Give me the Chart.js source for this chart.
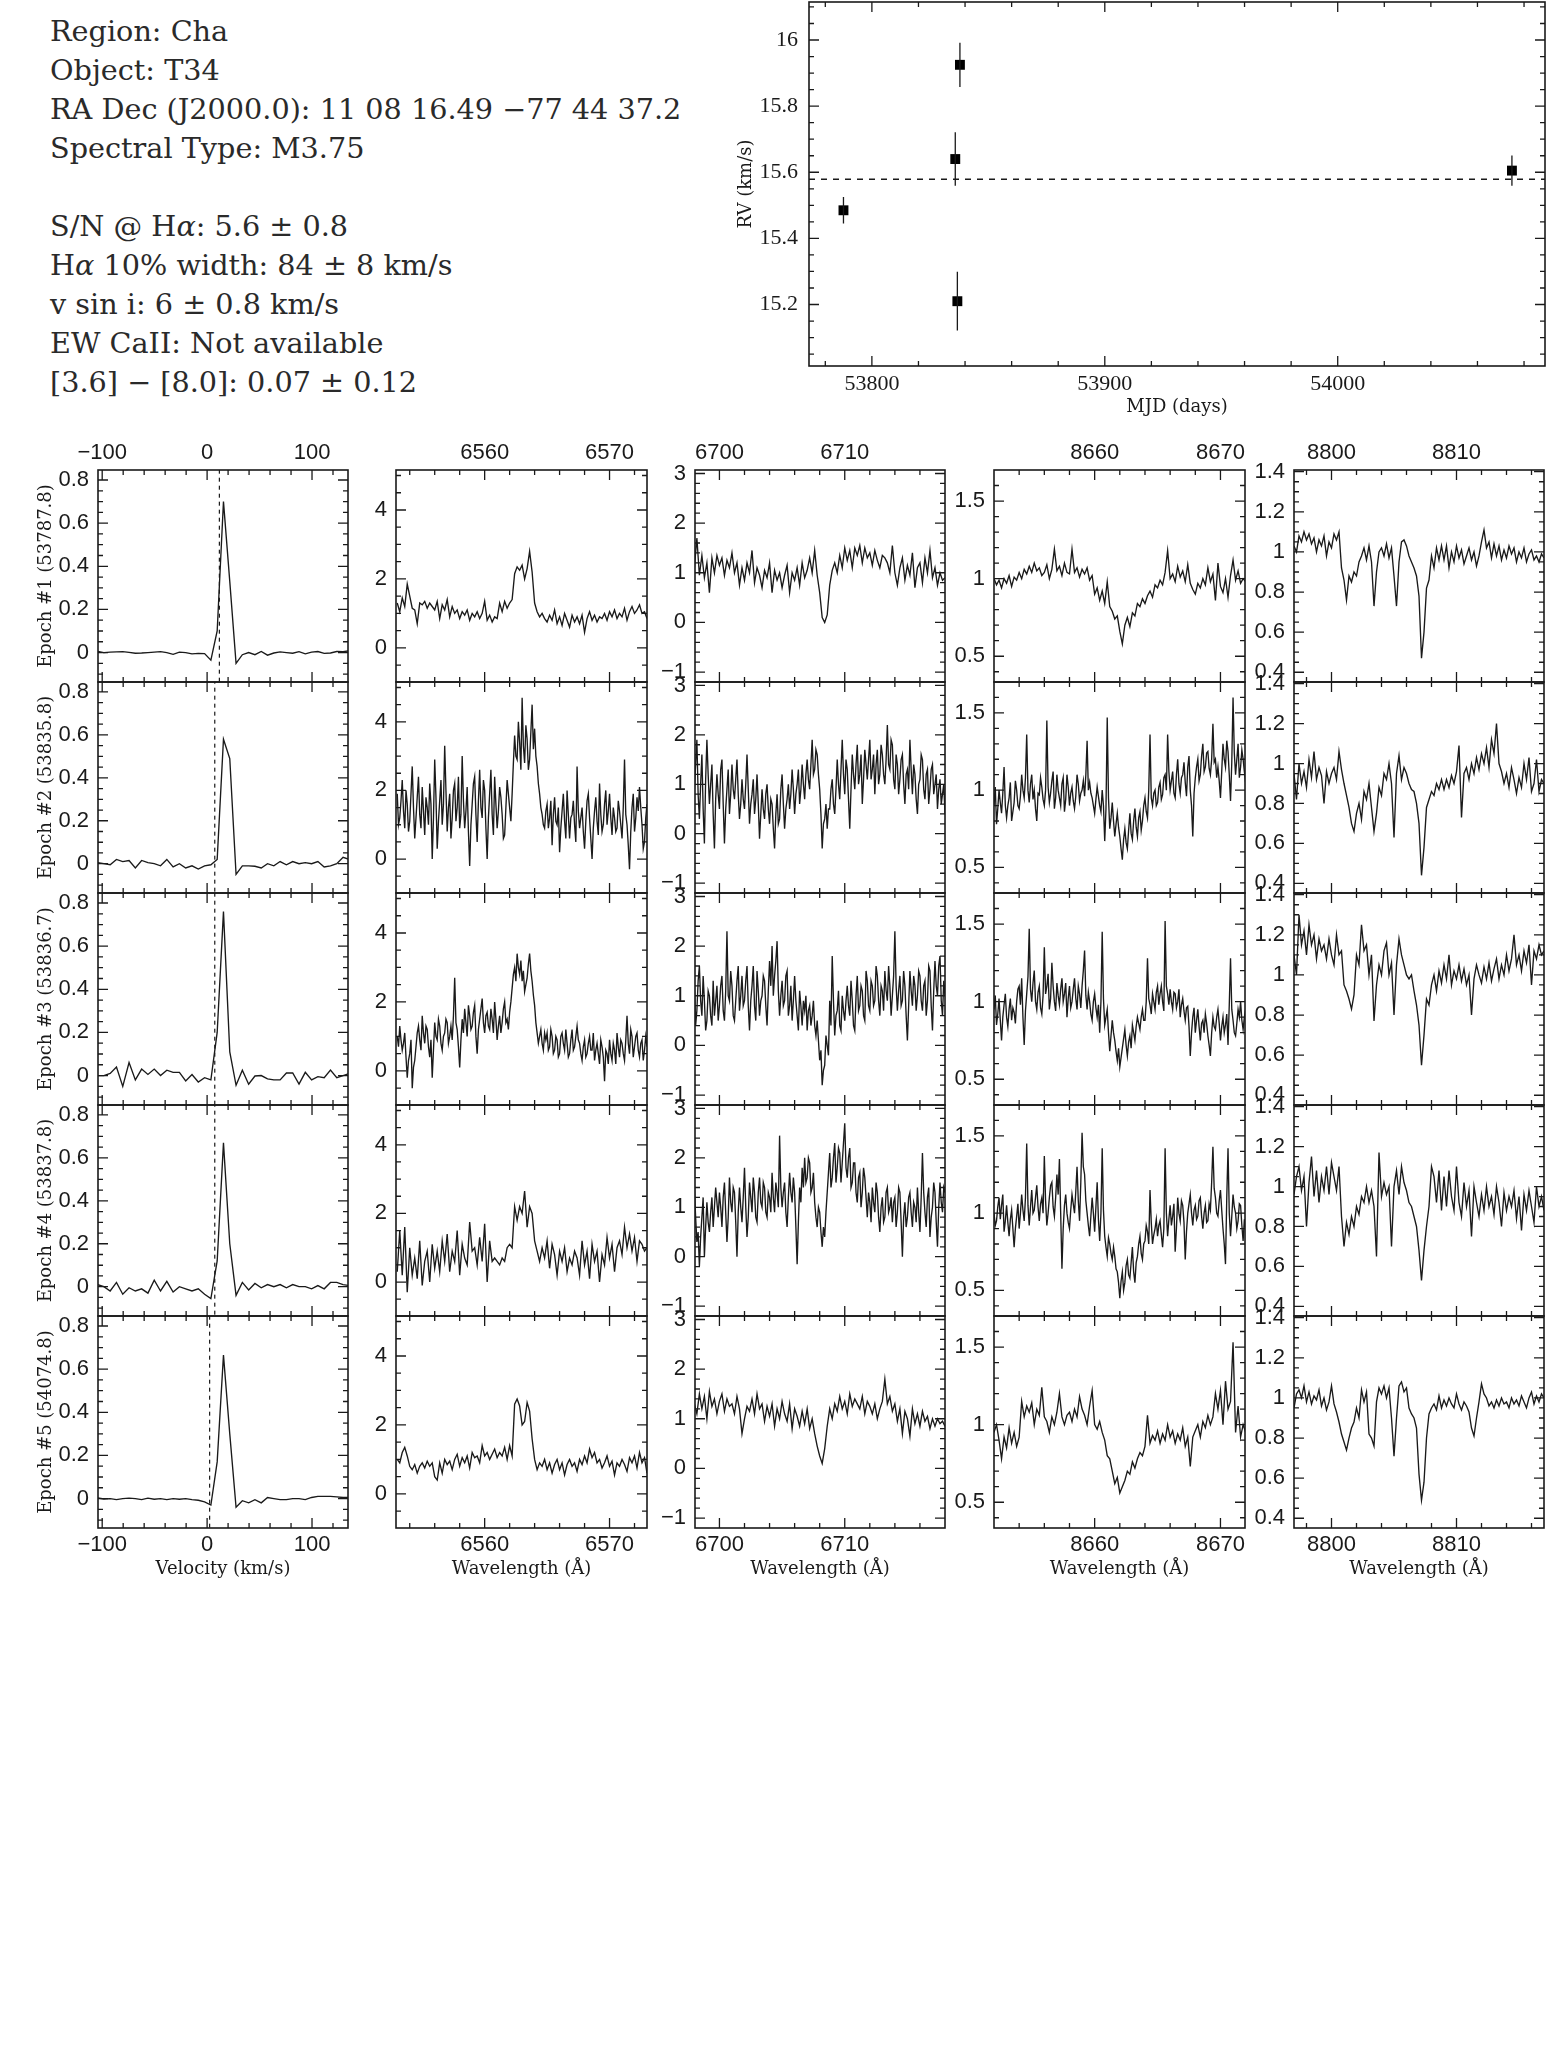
<!DOCTYPE html>
<html>
<head>
<meta charset="utf-8">
<script src="https://cdn.jsdelivr.net/npm/chart.js@4.4.0/dist/chart.umd.min.js"></script>
<style>
  body { margin: 0; background: #fff; width: 1547px; height: 2069px; position: relative; overflow: hidden; }
  canvas { position: absolute; }
  #info { position: absolute; left: 50px; top: 12px; font-family: 'DejaVu Serif', serif; font-size: 28.7px;
          line-height: 39px; color: #2a2a2a; white-space: pre; }
</style>
</head>
<body>
<div id="info">Region: Cha
Object: T34
RA Dec (J2000.0): 11 08 16.49 −77 44 37.2
Spectral Type: M3.75

S/N @ H<i>α</i>: 5.6 ± 0.8
H<i>α</i> 10% width: 84 ± 8 km/s
v sin i: 6 ± 0.8 km/s
EW CaII: Not available
[3.6] − [8.0]: 0.07 ± 0.12</div>
<script>
// ---- radial velocity per epoch ----
const rvMjd   = [53787.8, 53835.8, 53836.7, 53837.8, 54074.8];
const rvValue = [15.485, 15.64, 15.21, 15.925, 15.605];
const rvError = [0.04, 0.081, 0.089, 0.067, 0.046];
const rvMean  = 15.579;
const rvTicksX = [53800, 53900, 54000];
const rvTicksY = [15.2, 15.4, 15.6, 15.8, 16];

const epochLabels = ['Epoch #1 (53787.8)', 'Epoch #2 (53835.8)', 'Epoch #3 (53836.7)',
                     'Epoch #4 (53837.8)', 'Epoch #5 (54074.8)'];

// ---- cross-correlation functions ----
const ccfVel = [-104.4,-98.4,-92.4,-86.4,-80.4,-74.4,-68.4,-62.4,-56.4,-50.4,-44.4,-38.4,-32.4,-26.4,
  -20.4,-14.4,-8.4,-2.4,3.6,9.6,15.6,21.6,27.6,33.6,39.6,45.6,51.6,57.6,63.6,69.6,75.6,81.6,87.6,
  93.6,99.6,105.6,111.6,117.6,123.6,129.6,135.6];
const ccfFlux = [
  [0.005,0.0,0.002,0.003,0.004,0.001,-0.003,-0.002,0.0,0.002,0.004,0.0,-0.008,0.002,0.0,-0.006,-0.004,-0.005,
   -0.035,0.1,0.70,0.33,-0.05,
   -0.01,0.0,-0.01,0.005,-0.012,-0.002,0.003,0.0,-0.003,0.004,-0.006,0.002,0.005,-0.004,-0.002,0.005,0.004,0.008],
  [0.005,0.0,-0.005,0.02,0.01,0.015,-0.02,0.015,0.005,0.0,-0.01,0.02,-0.015,0.0,-0.02,-0.01,-0.025,-0.01,
   -0.005,0.02,0.58,0.49,-0.05,
   -0.01,-0.01,-0.012,-0.02,0.0,-0.01,0.01,-0.005,0.01,0.0,0.005,0.0,0.01,-0.015,-0.01,0.0,0.03,0.02],
  [0.0,0.0,0.01,0.04,-0.05,0.06,-0.02,0.03,0.005,0.03,0.0,0.025,0.015,0.015,-0.025,0.005,-0.03,-0.01,
   -0.02,0.2,0.76,0.11,-0.045,
   0.025,-0.04,-0.002,0.0,-0.015,-0.02,-0.02,0.012,0.012,-0.04,0.015,-0.02,-0.005,-0.01,0.025,-0.01,0.0,0.01],
  [0.01,0.0,-0.02,0.02,-0.035,-0.005,-0.02,-0.01,-0.03,0.03,-0.02,0.025,-0.025,0.0,-0.01,-0.02,-0.01,-0.035,
   -0.055,0.12,0.67,0.2,-0.04,
   0.02,-0.015,0.015,-0.005,0.01,0.0,0.01,-0.005,0.01,0.0,0.0,-0.01,0.005,-0.01,0.02,0.02,0.01,0.005],
  [0.003,-0.002,0.0,-0.005,0.0,0.002,0.0,-0.005,0.002,-0.003,0.0,-0.005,0.0,-0.003,0.0,-0.005,-0.008,-0.015,
   -0.03,0.17,0.665,0.3,-0.04,
   -0.01,-0.02,-0.005,-0.02,0.005,0.0,-0.005,-0.005,0.0,0.0,-0.005,0.005,0.01,0.01,0.01,0.008,0.005,0.005]
];
const ccfMarker = [11.7, 7.3, 7.3, 7.3, 2.4];
const velTicksX = [-100, 0, 100];
const velTicksY = [0, 0.2, 0.4, 0.6, 0.8];

// ---- spectra: flux sampled evenly across a 20 A window from each window start ----
const waveSpan = 20;
const haStart = 6553.0, liStart = 6698.0, caStart = 8652.0, feStart = 8797.0;

const haFlux = [
  [1.3,1.05,1.45,1.2,1.85,1.5,1.15,1.1,0.7,1.3, 1.25,1.35,1.15,1.3,1.2,1.1,1.35,0.85,1.25,1.1,
   1.4,0.9,1.2,1.0,1.1,0.85,1.05,0.95,1.1,0.8, 1.0,0.9,1.05,0.85,1.0,1.35,0.8,0.95,0.75,0.9,
   0.85,1.3,1.05,1.35,1.15,1.3,1.4,2.15,2.35,2.25, 2.4,2.0,2.3,2.8,2.2,1.3,1.05,0.9,1.0,0.85,
   0.75,0.95,0.8,1.1,0.7,0.9,0.65,1.0,0.8,0.6, 0.95,0.75,0.9,0.7,0.95,0.45,0.85,1.05,0.8,0.95,
   0.75,0.9,0.85,1.0,0.8,1.05,0.9,1.1,0.85,1.0, 0.9,1.15,0.8,1.05,1.2,1.0,1.1,1.25,1.0,1.05,0.85],
  [1.9,1.0,1.2,1.7,2.3,1.4,0.9,2.0,1.6,0.8, 1.1,1.9,2.7,1.5,0.6,1.2,1.8,2.4,1.3,0.9,
   2.1,1.4,0.7,1.8,1.5,1.0,2.2,1.6,0.0,1.2, 2.9,1.8,0.3,1.1,1.7,2.3,1.0,1.6,3.3,2.0,
   0.8,1.5,1.9,0.6,1.2,2.0,2.2,1.1,1.5,2.4, 0.9,1.3,3.0,1.7,0.9,1.4,2.1,0.8,-0.2,1.0,
   1.6,2.2,2.4,1.3,0.5,1.7,2.6,1.5,1.2,2.3, 2.0,0.9,0.0,1.2,1.9,2.6,1.3,0.7,2.4,1.6,
   0.9,1.4,2.1,1.8,1.3,0.6,0.7,1.5,2.3,1.9, 1.5,1.1,1.9,2.8,3.6,3.0,2.9,4.0,3.4,2.6,
   4.7,3.3,2.8,3.9,3.5,2.6,2.9,3.7,4.5,3.2, 3.8,3.0,2.7,2.2,1.9,1.5,1.3,1.0,0.9,1.4,
   1.6,0.9,1.2,1.7,0.4,1.3,1.8,1.1,1.0,1.5, 0.2,0.9,1.4,1.9,1.1,0.6,2.0,1.3,0.6,1.2,
   1.3,1.7,1.0,0.5,2.7,1.4,0.9,1.2,1.5,0.8, 0.3,1.1,1.7,1.9,1.2,0.6,0.0,0.9,1.4,1.8,
   1.1,0.7,2.2,1.3,0.8,1.0,1.6,2.0,1.0,1.4, 1.9,1.2,0.7,1.5,1.2,0.8,0.9,1.7,1.4,1.0,
   0.6,1.5,2.9,1.3,1.0,0.4,-0.3,0.8,1.5,1.9, 0.8,1.2,1.8,1.4,2.1,1.5,1.0,0.3,0.5,1.2, 1.6],
  [1.0,0.7,1.3,0.9,0.6,0.8,1.1,0.4,-0.2,0.3, 0.5,0.9,-0.5,0.1,0.3,0.7,1.1,1.3,0.9,0.6,
   1.6,1.1,0.8,1.3,1.2,0.7,0.4,0.9,-0.2,0.6, 1.4,1.0,0.9,1.5,1.3,0.8,0.6,1.0,1.1,1.5,
   1.4,0.8,1.0,1.3,0.9,1.6,2.7,1.4,1.2,0.7, 0.1,0.9,1.5,1.1,1.8,1.4,1.0,1.9,1.6,1.2,
   1.3,1.7,1.9,1.0,0.5,1.2,1.5,1.8,2.1,1.4, 1.1,1.6,1.7,1.3,1.2,1.8,1.5,1.1,2.0,1.5,
   0.9,1.3,1.6,1.1,1.4,1.8,2.0,1.4,1.5,1.2, 1.7,2.0,2.4,2.8,3.0,2.6,3.4,3.0,2.8,3.2,
   2.6,2.9,2.3,2.5,2.7,3.1,3.4,2.9,2.6,2.2, 1.9,1.4,1.1,0.8,1.0,1.2,0.8,0.6,1.1,0.9,
   1.1,0.6,0.7,1.2,1.0,0.5,0.6,1.0,0.9,0.4, 0.5,1.0,1.1,0.8,0.6,1.2,0.8,0.4,0.5,0.9,
   1.2,0.6,0.7,1.0,1.3,0.9,0.8,0.5,0.3,0.7, 0.9,0.4,0.5,0.8,1.0,0.6,0.6,1.1,0.3,0.6,
   0.8,0.5,0.2,0.9,0.7,0.4,-0.3,0.6,0.5,0.2, 0.9,0.5,0.3,0.8,0.6,0.2,1.1,0.7,0.4,0.9,
   0.8,0.5,0.3,0.9,1.6,0.8,0.5,1.2,1.0,0.4, 0.7,1.0,1.1,0.6,0.4,0.8,0.9,0.3,0.6,1.0, 0.7],
  [0.3,1.5,0.2,1.6,-0.3,1.0,0.2,0.7,0.1,1.2, -0.1,0.6,0.9,0.0,1.1,0.4,0.9,0.3,1.2,0.6,
   1.4,0.3,0.9,0.6,1.5,0.2,1.1,0.7,0.5,1.75, 0.9,1.0,0.5,1.3,0.6,1.7,0.0,1.2,0.6,0.7,
   0.6,0.5,0.7,0.6,1.0,1.1,1.0,2.2,1.8,2.2, 2.0,2.65,1.6,2.2,2.0,1.2,0.9,0.6,1.0,0.7,
   1.2,0.4,1.1,0.8,0.2,0.9,0.6,1.0,0.3,0.7, 0.5,0.9,0.7,0.2,1.2,0.5,0.9,0.1,1.1,0.6,
   0.9,0.0,0.8,0.5,1.3,0.7,1.1,0.3,1.0,1.2, 0.8,1.6,1.0,1.4,0.9,1.3,0.6,1.2,1.1,0.9,1.0],
  [1.0,0.9,1.2,1.35,1.1,0.8,0.7,0.85,0.6,0.8, 0.9,0.75,0.95,0.8,0.9,0.5,0.4,0.9,0.6,1.0,
   0.85,0.95,0.7,1.0,1.15,0.8,1.05,0.9,1.1,0.75, 1.2,1.05,1.1,0.9,1.4,1.1,1.2,1.0,1.15,1.3,
   1.05,1.2,1.1,1.35,1.0,1.4,1.1,2.6,2.75,2.55, 2.0,2.1,2.65,2.4,1.6,1.0,0.7,0.9,0.8,1.0,
   0.7,0.9,0.6,0.85,1.0,0.7,0.9,0.55,0.85,1.0, 0.8,0.9,0.65,1.0,0.85,1.1,0.9,1.3,1.05,1.2,
   0.9,1.0,0.75,0.9,1.1,0.8,0.95,0.55,0.9,0.8, 1.0,0.85,0.65,1.05,0.9,1.1,0.75,1.2,0.9,1.05,0.6]
];
const haTicksX = [6560, 6570];
const haTicksY = [0, 2, 4];

const liFlux = [
  [1.1,1.7,0.95,1.35,0.9,1.2,0.6,1.3,1.0,1.35, 1.15,1.3,0.95,1.25,1.1,1.4,1.0,1.2,0.75,1.1,
   0.85,1.2,1.0,1.45,0.8,1.1,0.95,0.7,1.05,0.9, 1.2,0.6,1.05,0.85,1.0,0.7,0.95,1.15,0.6,1.0,
   0.85,1.1,0.75,1.2,0.9,1.05,1.3,1.0,1.45,0.95, 0.6,0.1,0.0,0.15,0.75,1.05,1.2,1.0,1.35,1.1,
   1.5,1.25,1.45,1.1,1.5,1.35,1.55,1.2,1.5,1.3, 1.4,1.15,1.45,1.25,1.1,1.35,1.3,1.2,1.0,1.55,
   1.0,0.75,1.1,1.3,0.85,1.15,0.95,1.4,0.7,1.1, 1.2,0.8,1.3,1.0,1.45,0.9,1.1,0.75,1.0,0.85,0.9],
  [0.9,1.4,1.9,0.8,0.3,1.0,1.6,0.5,-0.2,1.1, 1.9,1.2,0.6,1.0,1.4,0.4,-0.3,0.7,1.2,0.8,
   0.5,1.3,1.5,0.6,-0.2,0.5,0.9,1.3,0.4,0.8, 1.4,0.9,0.7,1.1,1.5,0.8,0.3,0.6,1.1,0.7,
   0.5,1.0,1.6,0.9,0.2,0.6,0.8,1.1,0.4,0.7, 1.2,0.6,-0.1,0.4,0.9,0.5,0.3,0.8,1.0,0.5,
   0.2,0.7,0.6,0.1,-0.3,0.4,0.8,0.2,0.3,0.9, 1.2,0.6,0.1,0.5,0.7,1.0,0.5,0.8,1.3,0.9,
   0.4,0.8,1.0,1.3,0.6,0.9,1.4,1.0,0.7,1.2, 1.5,1.1,0.9,1.4,1.9,1.2,1.3,1.7,1.6,1.2,
   0.9,0.4,-0.3,0.2,0.3,0.6,0.1,0.5,0.5,0.9, 1.1,0.6,0.4,0.9,1.5,1.0,0.7,1.3,1.9,1.2,
   0.8,1.5,1.3,0.7,0.1,0.9,1.6,1.2,0.9,1.4, 1.8,1.0,1.2,1.6,0.6,1.1,1.7,1.4,1.1,1.5,
   1.9,1.1,1.3,1.6,0.8,1.4,1.7,1.0,1.2,1.8, 1.6,1.2,1.0,1.5,2.2,1.4,1.3,1.9,1.8,1.1,
   0.9,1.6,1.4,0.8,1.1,1.5,1.6,1.0,0.6,1.2, 1.3,0.9,1.9,1.3,0.8,1.4,1.2,0.7,0.4,1.0,
   1.1,1.6,1.5,0.9,0.7,1.2,1.3,0.6,0.9,1.3, 1.4,0.8,1.0,1.2,0.5,0.9,1.1,0.6,0.8,1.0, 0.4],
  [1.2,0.4,0.7,1.3,1.6,0.9,0.6,1.4,0.9,0.3, 0.5,1.1,1.0,0.6,0.4,1.3,0.6,0.9,1.2,0.5,
   0.8,1.2,1.4,0.7,0.5,1.1,2.3,1.0,0.9,1.5, 1.2,0.6,0.5,0.9,1.3,1.6,0.7,1.0,1.4,0.8,
   0.9,1.3,1.6,0.8,0.3,0.9,1.2,1.6,0.8,0.5, 1.5,1.1,0.6,0.9,1.0,1.4,1.3,0.8,0.4,1.1,
   1.7,1.2,2.0,1.0,1.4,1.7,2.1,1.1,0.6,1.0, 1.3,0.8,0.9,1.4,1.5,0.6,0.8,1.2,0.5,0.9,
   1.4,0.9,0.6,0.3,1.1,0.8,0.4,0.9,0.7,1.0, 0.3,0.7,0.8,0.4,0.6,0.9,0.4,0.2,0.5,0.1,
   -0.3,-0.1,-0.8,-0.5,-0.4,0.2,0.0,-0.2,0.9,0.4, 1.8,0.9,0.2,0.6,0.7,1.1,0.4,0.3,1.0,0.7,
   0.5,0.9,1.2,0.8,0.6,1.3,0.9,0.4,0.3,1.0, 1.4,0.7,0.8,1.2,1.1,0.6,0.5,1.5,1.3,0.8,
   0.7,1.3,1.2,0.8,0.9,1.6,1.4,0.9,0.6,1.2, 1.1,0.7,1.5,1.1,0.9,1.6,1.2,0.6,1.0,1.4,
   2.3,1.2,0.7,1.1,1.4,0.8,0.9,1.5,1.2,0.6, 0.1,0.8,1.5,1.1,0.8,1.4,1.2,0.7,1.0,1.5,
   1.4,0.9,0.7,1.2,1.3,0.6,0.9,1.6,1.5,0.8, 0.3,1.1,1.7,1.2,1.0,1.6,1.8,0.9,0.6,1.3, 1.0],
  [1.4,0.8,0.3,0.5,-0.2,0.4,0.8,1.2,0.0,0.6, 1.1,0.7,0.5,0.9,1.2,0.6,1.0,1.4,1.1,0.8,
   1.3,1.0,0.6,1.2,1.5,0.9,0.3,0.8,1.6,1.1, 0.9,1.4,1.3,0.7,0.0,0.9,1.4,1.0,0.7,1.2,
   1.8,1.0,0.4,0.8,1.5,1.2,0.9,1.6,1.3,0.8, 0.7,1.3,1.6,1.1,1.0,1.5,1.4,0.9,0.8,1.3,
   1.2,0.9,1.7,1.2,0.9,1.5,1.3,1.0,2.45,1.4, 1.0,1.3,1.5,0.9,0.6,1.2,1.7,1.3,1.1,1.6,
   1.3,0.6,-0.15,0.7,1.4,1.1,1.8,1.4,2.0,1.5, 1.6,2.0,1.9,1.3,1.4,1.7,1.1,0.8,0.6,1.0,
   0.9,0.5,0.2,0.6,0.4,0.9,1.3,1.7,2.1,1.4, 1.6,2.0,2.3,1.5,1.8,2.2,2.1,1.5,1.9,2.3,
   2.7,1.8,1.6,2.0,2.2,1.4,1.5,1.9,1.9,1.3, 1.1,1.6,1.7,1.0,1.3,1.8,1.6,1.2,0.8,1.3,
   1.1,0.7,1.4,1.1,0.9,1.5,1.3,0.8,0.5,1.0, 1.2,0.7,0.8,1.3,1.4,0.9,1.0,1.2,0.7,1.1,
   1.2,0.6,0.9,1.4,1.3,0.7,0.0,0.8,1.1,0.6, 0.8,1.2,1.3,0.9,0.6,1.1,1.0,0.7,1.4,0.9,
   0.5,1.2,2.1,1.3,0.9,0.6,1.2,1.4,0.4,0.8, 1.0,1.5,1.3,0.7,0.2,1.0,1.5,1.1,0.9,1.4, 1.3],
  [1.3,1.1,1.5,1.2,1.45,1.0,1.55,1.25,1.4,1.1, 1.35,1.5,1.15,1.4,1.25,1.3,1.1,1.45,1.2,0.7,
   1.0,1.25,1.15,1.4,1.1,1.5,1.2,1.3,0.95,1.25, 1.05,1.3,0.85,1.2,1.0,1.35,1.1,0.95,1.3,0.8,
   1.2,1.05,0.85,1.15,0.9,1.2,0.8,1.0,0.7,0.45, 0.25,0.1,0.4,0.85,1.2,1.0,1.3,1.15,1.45,1.2,
   1.35,1.1,1.5,1.25,1.4,1.3,1.2,1.45,1.1,1.35, 1.25,1.1,1.3,1.0,1.2,1.35,1.8,1.3,1.45,1.15,
   1.3,0.95,1.2,0.7,1.15,1.0,0.65,1.2,0.9,1.1, 0.85,1.15,0.95,1.05,0.8,1.0,0.85,1.0,0.9,0.95,0.85]
];
const liTicksX = [6700, 6710];
const liTicksY = [-1, 0, 1, 2, 3];

const caFlux = [
  [1.0,0.96,0.99,0.94,1.0,0.97,1.02,0.95,1.01,0.99, 1.04,1.0,1.06,1.03,1.08,1.04,1.1,1.05,1.07,1.02,
   1.04,1.09,1.0,1.06,1.19,1.05,1.08,1.02,1.1,1.04, 1.03,1.19,1.04,1.07,1.01,1.06,1.03,1.07,0.99,1.02,
   0.9,0.94,0.86,0.92,0.84,0.98,0.82,0.79,0.74,0.76, 0.66,0.58,0.7,0.75,0.69,0.78,0.76,0.84,0.82,0.87,
   0.84,0.89,0.92,0.88,0.96,0.94,0.99,0.96,1.04,1.18, 1.0,1.03,0.98,1.08,1.01,1.05,0.98,1.09,0.97,0.93,
   0.9,0.97,0.94,1.0,0.96,1.07,0.98,1.03,0.86,1.1, 0.95,0.91,1.0,0.88,1.02,1.12,0.99,1.05,0.97,1.0,0.98],
  [0.9,1.02,0.78,0.88,1.0,0.92,0.85,0.98,1.15,0.9, 0.82,0.9,0.95,1.05,0.8,0.86,0.92,1.06,1.0,0.9,
   0.88,0.96,1.1,1.0,0.95,1.08,1.36,1.0,0.92,1.04, 1.1,0.94,1.0,0.88,0.8,0.98,0.97,1.08,1.02,0.94,
   0.9,1.0,1.45,1.02,0.92,0.98,1.06,1.12,0.88,0.95, 1.1,1.0,0.95,0.9,1.04,1.08,0.86,0.94,1.1,1.02,
   0.9,0.98,1.02,0.93,0.88,0.96,1.1,1.04,0.93,0.98, 1.0,1.06,0.96,1.1,1.32,1.0,1.05,0.98,0.95,0.9,
   0.85,0.94,1.02,0.96,0.9,0.86,1.0,0.9,0.67,0.88, 1.47,0.95,0.75,0.82,0.92,0.8,0.7,0.78,0.85,0.76,
   0.7,0.62,0.55,0.68,0.75,0.66,0.62,0.74,0.85,0.72, 0.68,0.8,0.88,0.76,0.7,0.82,0.86,0.74,0.8,0.9,
   0.95,0.86,0.82,1.0,1.36,0.95,0.9,0.98,1.0,0.9, 0.92,1.02,1.05,0.94,0.97,1.08,1.1,1.0,1.36,1.12,
   1.0,1.06,1.12,0.98,0.95,1.1,1.2,1.04,0.98,1.08, 1.1,1.18,1.05,0.96,1.15,1.22,1.0,0.9,0.7,0.98,
   1.08,1.15,1.2,1.06,1.1,1.22,1.3,1.12,1.15,1.24, 1.25,1.14,1.1,1.2,1.43,1.18,1.2,1.08,1.15,1.06,
   0.95,1.12,1.3,1.2,1.15,1.32,1.25,1.1,0.93,1.18, 1.6,1.24,1.1,1.2,1.3,1.08,1.15,1.26,1.2,1.12, 1.05],
  [0.95,1.04,0.85,0.92,1.02,0.88,0.75,0.9,0.98,1.05, 0.9,0.84,0.95,1.02,0.88,0.96,0.93,0.86,1.0,1.08,
   1.1,0.98,1.15,0.9,0.72,0.94,1.05,1.16,1.47,1.08, 1.0,1.12,1.2,1.0,0.95,1.06,1.1,0.96,0.92,1.04,
   1.35,1.05,1.1,1.18,0.95,1.02,1.25,1.1,1.0,0.94, 1.12,1.04,0.98,1.08,1.15,1.0,1.05,1.12,0.9,1.02,
   1.1,0.96,1.0,1.08,1.15,1.02,0.95,1.1,1.05,0.96, 1.1,1.2,1.33,1.04,0.95,1.06,1.0,0.92,0.88,1.0,
   1.05,0.96,0.9,0.98,0.8,1.0,1.45,1.02,0.85,0.9, 0.95,0.8,0.68,0.78,0.88,0.8,0.75,0.68,0.62,0.7,
   0.58,0.64,0.7,0.76,0.82,0.72,0.65,0.74,0.78,0.7, 0.85,0.8,0.75,0.84,0.9,0.86,0.82,0.9,0.95,0.88,
   0.88,1.0,1.28,1.02,0.98,0.92,1.05,1.0,0.95,1.06, 1.1,0.98,1.05,1.1,1.0,0.94,1.52,1.1,1.05,0.98,
   1.08,1.0,0.95,1.06,1.05,0.96,1.0,1.08,0.9,0.98, 1.02,0.94,0.88,0.96,0.97,0.84,0.65,0.8,0.9,0.96,
   0.8,0.88,0.95,0.84,0.75,0.86,0.88,0.8,0.92,0.86, 0.78,0.72,0.65,0.8,0.9,0.84,0.82,0.9,0.95,0.86,
   0.75,0.84,0.9,0.8,0.85,0.92,0.72,0.98,1.28,0.95, 0.88,0.8,0.78,0.86,0.95,0.9,1.0,0.88,0.82,0.9, 0.95],
  [1.0,0.92,0.95,1.04,1.1,0.96,1.05,1.12,0.88,0.95, 1.05,0.94,0.85,0.96,1.02,0.9,0.78,0.9,0.98,1.06,
   0.9,1.0,1.12,1.02,0.95,1.1,1.45,1.05,0.92,1.04, 1.15,1.0,1.02,1.1,1.18,1.04,0.95,1.06,1.1,1.0,
   1.37,1.08,0.92,1.0,1.1,1.18,1.2,1.04,0.98,1.1, 1.25,1.12,1.35,1.0,0.64,0.9,1.05,1.12,1.0,0.94,
   0.9,1.02,1.12,1.06,1.0,1.14,1.3,1.08,0.95,1.2, 1.52,1.3,1.25,1.08,1.0,0.92,0.85,0.98,1.1,1.0,
   0.88,1.04,1.2,0.96,0.82,1.0,1.42,1.02,0.85,0.78, 0.72,0.84,0.8,0.74,0.7,0.78,0.72,0.64,0.62,0.55,
   0.45,0.56,0.62,0.5,0.55,0.66,0.7,0.6,0.58,0.68, 0.78,0.62,0.55,0.68,0.72,0.8,0.85,0.74,0.7,0.8,
   0.82,0.92,0.88,0.8,1.15,0.94,0.8,0.86,0.9,0.96, 0.85,0.92,0.95,0.86,0.78,0.9,1.42,1.0,0.85,0.96,
   1.05,0.92,0.98,1.06,0.75,0.9,1.1,1.0,0.95,1.08, 1.05,0.94,0.7,0.88,1.0,1.06,1.12,1.0,0.92,1.02,
   1.05,0.96,0.98,1.08,1.1,0.98,0.9,1.0,1.05,0.94, 0.95,1.06,1.02,1.2,1.43,1.16,1.1,1.0,0.98,1.08,
   1.15,1.02,0.9,0.8,0.67,1.1,1.42,1.0,0.85,0.98, 1.12,1.04,1.0,0.9,0.95,1.06,1.05,0.92,0.82,0.96, 0.9],
  [0.95,1.0,0.9,0.78,0.92,0.85,0.98,0.88,0.95,0.86, 0.92,1.15,1.05,1.12,1.08,1.14,1.0,1.1,1.06,1.24,
   1.05,1.02,0.95,1.05,1.0,1.08,1.2,1.05,1.0,1.06, 1.08,1.02,1.1,1.05,1.18,1.1,1.06,1.0,1.12,1.22,
   1.0,0.97,1.02,0.95,0.9,0.8,0.78,0.7,0.62,0.66, 0.56,0.6,0.64,0.7,0.68,0.76,0.72,0.78,0.82,0.8,
   0.86,1.06,0.88,0.93,0.9,0.96,0.88,0.94,0.9,1.0, 0.92,0.96,0.88,0.94,0.9,0.98,0.86,0.92,0.73,0.92,
   0.96,1.0,0.92,1.02,0.98,1.06,1.0,1.05,1.2,1.1, 1.22,1.0,1.28,1.1,1.15,1.53,0.95,1.12,0.92,1.0,0.95]
];
const caTicksX = [8660, 8670];
const caTicksY = [0.5, 1, 1.5];

const feFlux = [
  [1.03,1.0,1.08,1.05,1.1,1.06,1.09,1.04,1.07,1.0, 1.06,1.03,1.08,0.98,1.05,1.02,1.09,1.06,1.1,0.92,
   0.86,0.76,0.88,0.85,0.9,0.88,0.95,0.98,1.02,0.96, 1.03,0.95,0.73,0.9,1.0,1.02,0.98,1.04,0.97,1.02,
   0.88,0.73,0.95,1.05,1.06,1.03,0.98,0.95,0.92,0.88, 0.78,0.47,0.6,0.82,0.86,0.98,0.92,1.02,0.96,1.03,
   0.96,1.03,0.92,1.0,0.95,1.03,0.97,1.01,0.94,0.98, 1.02,0.96,1.0,0.93,0.98,1.05,1.11,1.02,1.05,0.97,
   1.04,0.98,1.03,0.96,1.01,0.97,1.03,0.99,1.02,0.95, 1.0,0.97,1.02,0.95,0.99,1.01,0.96,0.98,0.95,0.99,0.97],
  [0.95,0.82,1.0,0.9,0.96,0.88,1.02,0.93,1.06,0.92, 0.98,0.94,0.8,0.96,0.9,0.95,0.98,0.92,1.06,0.97,
   0.9,0.84,0.78,0.7,0.66,0.75,0.8,0.72,0.86,0.82, 0.9,0.78,0.66,0.75,0.88,0.84,0.95,0.92,1.0,0.9,
   0.63,0.95,1.04,0.92,0.98,0.95,0.9,0.87,0.86,0.8, 0.7,0.44,0.58,0.78,0.82,0.86,0.84,0.9,0.87,0.92,
   0.87,0.92,0.88,0.94,0.9,0.96,1.09,0.73,0.95,0.98, 0.92,1.0,0.95,1.03,0.97,1.05,1.0,1.08,0.98,1.12,
   1.05,1.2,1.0,0.96,0.9,0.95,0.88,0.98,0.92,0.85, 0.93,0.88,1.0,0.92,1.03,0.86,0.9,1.02,0.86,0.92,0.9],
  [1.1,1.0,1.3,1.15,1.22,1.1,1.25,1.15,1.2,1.08, 1.18,1.12,1.15,1.08,1.18,1.1,1.05,1.2,1.1,1.12,
   0.95,0.92,0.88,0.83,0.9,1.1,1.05,1.25,1.12,1.15, 1.0,1.1,0.77,0.95,1.05,1.0,1.12,1.16,1.0,1.06,
   0.8,1.05,1.18,1.1,1.05,1.0,0.98,1.0,0.92,0.85, 0.75,0.55,0.7,0.88,0.85,0.95,1.0,0.92,1.02,0.96,
   1.05,0.98,1.1,0.95,1.02,0.98,1.05,0.97,1.03,0.95, 1.0,0.8,0.98,1.05,1.0,0.96,1.04,0.98,1.06,0.97,
   1.03,1.08,0.98,1.05,1.0,1.1,1.02,1.08,1.2,1.05, 1.1,1.02,1.12,1.06,1.15,0.95,1.12,1.08,1.15,1.1,1.12],
  [0.96,1.05,1.1,0.98,1.05,0.8,1.02,1.15,0.95,1.08, 0.92,1.05,0.98,1.1,0.96,1.12,1.05,0.98,1.1,0.85,
   0.7,0.82,0.76,0.85,0.8,0.9,0.86,0.95,0.92,1.0, 0.92,0.98,0.9,0.65,1.17,0.95,1.02,0.96,1.0,0.7,
   1.0,1.08,0.96,1.1,1.02,0.98,0.92,0.9,0.85,0.8, 0.68,0.53,0.68,0.8,0.9,1.1,1.05,0.92,1.08,0.88,
   1.05,0.9,1.08,0.95,0.88,1.1,0.92,0.85,1.02,0.9, 0.98,0.75,1.0,0.92,0.85,0.96,0.88,1.0,0.9,0.95,
   0.86,1.0,0.92,0.8,0.97,0.88,0.95,0.9,0.98,0.84, 0.95,0.78,0.96,0.88,0.98,0.9,0.82,1.0,0.9,0.95,0.88],
  [0.95,1.02,1.04,1.0,1.06,0.98,1.03,0.97,1.01,0.99, 1.04,0.96,1.0,0.94,0.98,1.06,0.97,0.93,0.88,0.82,
   0.78,0.74,0.8,0.85,0.88,0.95,0.9,1.04,0.98,1.03, 0.82,0.8,0.76,0.98,1.05,1.02,1.06,1.0,1.05,0.9,
   0.71,0.9,1.06,1.08,1.03,1.05,0.95,0.92,0.9,0.85, 0.62,0.49,0.58,0.8,0.92,0.95,0.97,0.94,1.01,0.95,
   0.99,0.96,1.0,0.97,0.95,1.02,0.97,0.94,0.98,0.96, 0.93,0.85,0.81,0.9,0.98,1.07,1.02,1.0,0.96,0.98,
   0.95,0.99,0.96,1.0,0.97,0.98,0.95,1.0,0.97,0.99, 0.96,1.01,0.98,0.95,1.0,1.03,0.97,1.01,0.98,1.02,1.0]
];
const feTicksX = [8800, 8810];
const feTicksY = [0.4, 0.6, 0.8, 1, 1.2, 1.4];

// ---------------------------------------------------------------
const INK = '#1a1a1a';
const tickFont = { family: "'Liberation Sans', Arial, sans-serif", size: 22 };
const titleFont = { family: "'DejaVu Serif', serif", size: 18 };
const rvFont = { family: "'Liberation Serif', serif", size: 22 };

function range(min, max, step) {
  const out = [];
  for (let v = Math.ceil(min / step - 1e-6) * step; v <= max + 1e-9; v += step) out.push(+v.toFixed(6));
  return out;
}
const fmt = v => (v < 0 ? '\u2212' + (-v) : String(v));

// inward PGPLOT-style tick marks on all four sides plus the frame
const inTicks = {
  id: 'inTicks',
  afterDatasetsDraw(chart, args, o) {
    const { ctx, chartArea: a } = chart;
    const sx = chart.scales.x, sy = chart.scales.y;
    ctx.save();
    ctx.strokeStyle = INK;
    ctx.lineWidth = 1.3;
    ctx.beginPath();
    const xm = (vals, len) => vals.forEach(v => {
      const p = sx.getPixelForValue(v);
      if (p < a.left + 1 || p > a.right - 1) return;
      ctx.moveTo(p, a.bottom); ctx.lineTo(p, a.bottom - len);
      ctx.moveTo(p, a.top); ctx.lineTo(p, a.top + len);
    });
    const ym = (vals, len) => vals.forEach(v => {
      const p = sy.getPixelForValue(v);
      if (p < a.top + 1 || p > a.bottom - 1) return;
      ctx.moveTo(a.left, p); ctx.lineTo(a.left + len, p);
      ctx.moveTo(a.right, p); ctx.lineTo(a.right - len, p);
    });
    xm(range(sx.min, sx.max, o.xMinor), o.minorLen);
    xm(o.xMajor, o.majorLen);
    ym(range(sy.min, sy.max, o.yMinor), o.minorLen);
    ym(o.yMajor, o.majorLen);
    ctx.stroke();
    ctx.lineWidth = 1.6;
    ctx.strokeRect(a.left, a.top, a.right - a.left, a.bottom - a.top);
    ctx.restore();
  }
};
Chart.register(inTicks);

function makeCanvas(left, top, w, h) {
  const c = document.createElement('canvas');
  c.width = w; c.height = h;
  c.style.left = left + 'px'; c.style.top = top + 'px';
  c.style.width = w + 'px'; c.style.height = h + 'px';
  document.body.appendChild(c);
  return c;
}

// ---- RV vs time ----
(function () {
  const xr = [53773, 54089], yr = [15.014, 16.115];
  const errPts = [];
  rvMjd.forEach((m, i) => {
    errPts.push({ x: m, y: rvValue[i] - rvError[i] }, { x: m, y: rvValue[i] + rvError[i] }, { x: m, y: null });
  });
  const pts = rvMjd.map((m, i) => ({ x: m, y: rvValue[i] }));
  const yw = 73, xh = 52;
  new Chart(makeCanvas(700, 0, 847, 430), {
    type: 'line',
    data: { datasets: [
      { data: [{ x: xr[0], y: rvMean }, { x: xr[1], y: rvMean }], borderColor: INK, borderWidth: 1.4,
        borderDash: [6, 6], pointRadius: 0 },
      { data: errPts, borderColor: INK, borderWidth: 1.3, pointRadius: 0, spanGaps: false },
      { data: pts, showLine: false, pointStyle: 'rect', pointRadius: 7, backgroundColor: '#000', borderWidth: 0 }
    ] },
    options: {
      responsive: false, animation: false, events: [],
      layout: { autoPadding: false, padding: { left: 109 - yw, top: 2, right: 2, bottom: 430 - 366 - xh } },
      plugins: { legend: { display: false }, tooltip: { enabled: false },
        inTicks: { xMajor: rvTicksX, yMajor: rvTicksY, xMinor: 20, yMinor: 0.05, majorLen: 10, minorLen: 5 } },
      scales: {
        x: { type: 'linear', min: xr[0], max: xr[1], position: 'bottom',
          grid: { display: false, drawTicks: false }, border: { display: false },
          ticks: { font: rvFont, color: INK, padding: 5, maxRotation: 0, autoSkip: false, callback: fmt },
          title: { display: true, text: 'MJD (days)', font: titleFont, color: INK, padding: 0 },
          afterBuildTicks: s => { s.ticks = rvTicksX.map(v => ({ value: v })); },
          afterFit: s => { s.height = xh; s.paddingLeft = 0; s.paddingRight = 0; } },
        y: { type: 'linear', min: yr[0], max: yr[1],
          grid: { display: false, drawTicks: false }, border: { display: false },
          ticks: { font: rvFont, color: INK, padding: 11, autoSkip: false, callback: fmt },
          title: { display: true, text: 'RV (km/s)', font: titleFont, color: INK, padding: 0 },
          afterBuildTicks: s => { s.ticks = rvTicksY.map(v => ({ value: v })); },
          afterFit: s => { s.width = yw; s.paddingTop = 0; s.paddingBottom = 0; } }
      }
    }
  });
})();

// ---- 5 x 5 grid of line profiles ----
const columns = [
  { flux: ccfFlux, xs: ccfVel, x: [-104, 134.3], y: [-0.1365, 0.8464], xt: velTicksX, yt: velTicksY,
    xMinor: 20, yMinor: 0.05, title: 'Velocity (km/s)', marker: ccfMarker },
  { flux: haFlux, start: haStart, x: [6552.9, 6573.0], y: [-0.99, 5.16], xt: haTicksX, yt: haTicksY,
    xMinor: 2, yMinor: 0.5, title: 'Wavelength (\u00c5)' },
  { flux: liFlux, start: liStart, x: [6698.05, 6718.0], y: [-1.2, 3.07], xt: liTicksX, yt: liTicksY,
    xMinor: 2, yMinor: 0.2, title: 'Wavelength (\u00c5)' },
  { flux: caFlux, start: caStart, x: [8652.0, 8671.95], y: [0.334, 1.70], xt: caTicksX, yt: caTicksY,
    xMinor: 2, yMinor: 0.1, title: 'Wavelength (\u00c5)' },
  { flux: feFlux, start: feStart, x: [8797.0, 8817.0], y: [0.3515, 1.4085], xt: feTicksX, yt: feTicksY,
    xMinor: 2, yMinor: 0.05, title: 'Wavelength (\u00c5)' }
];
const colLeft = [98, 396, 695, 994, 1294], colWidth = [250, 251, 250, 251, 250];
const rowTop = [470, 682, 893, 1105, 1316], rowHeight = [212, 211, 212, 211, 212];

columns.forEach((col, c) => {
  for (let r = 0; r < 5; r++) {
    const padL = c === 0 ? 90 : 60, padR = 12, padT = 40, padB = 70;
    const yw = c === 0 ? 62 : 50, xhTop = 30, xhBot = 52;
    const first = r === 0, last = r === 4;
    const w = colWidth[c], h = rowHeight[r];
    const flux = col.flux[r];
    const step = waveSpan / (flux.length - 1);
    const pts = flux.map((f, i) => ({ x: col.xs ? col.xs[i] : col.start + i * step, y: f }));
    const datasets = [{ data: pts, borderColor: INK, borderWidth: 1.35, pointRadius: 0, tension: 0 }];
    if (col.marker) {
      datasets.push({ data: [{ x: col.marker[r], y: col.y[0] - 1 }, { x: col.marker[r], y: col.y[1] + 1 }],
        borderColor: INK, borderWidth: 1.2, borderDash: [4, 4], pointRadius: 0 });
    }
    new Chart(makeCanvas(colLeft[c] - padL, rowTop[r] - padT, padL + w + padR, padT + h + padB), {
      type: 'line',
      data: { datasets },
      options: {
        responsive: false, animation: false, events: [],
        layout: { autoPadding: false, padding: { left: padL - yw, right: padR,
          top: padT - (first ? xhTop : 0), bottom: padB - (last ? xhBot : 0) } },
        plugins: { legend: { display: false }, tooltip: { enabled: false },
          inTicks: { xMajor: col.xt, yMajor: col.yt, xMinor: col.xMinor, yMinor: col.yMinor,
                     majorLen: 10, minorLen: 5 } },
        scales: {
          x: { type: 'linear', min: col.x[0], max: col.x[1], position: first ? 'top' : 'bottom',
            display: first || last,
            grid: { display: false, drawTicks: false }, border: { display: false },
            ticks: { font: tickFont, color: INK, padding: 4, maxRotation: 0, autoSkip: false, callback: fmt },
            title: { display: last, text: col.title, font: titleFont, color: INK, padding: 0 },
            afterBuildTicks: s => { s.ticks = col.xt.map(v => ({ value: v })); },
            afterFit: s => { s.height = first ? xhTop : (last ? xhBot : 0); s.paddingLeft = 0; s.paddingRight = 0; } },
          y: { type: 'linear', min: col.y[0], max: col.y[1],
            grid: { display: false, drawTicks: false }, border: { display: false },
            ticks: { font: tickFont, color: INK, padding: 9, autoSkip: false, callback: fmt },
            title: { display: c === 0, text: epochLabels[r], font: titleFont, color: INK, padding: 0 },
            afterBuildTicks: s => { s.ticks = col.yt.map(v => ({ value: v })); },
            afterFit: s => { s.width = yw; s.paddingTop = 0; s.paddingBottom = 0; } }
        }
      }
    });
  }
});
</script>
</body>
</html>
